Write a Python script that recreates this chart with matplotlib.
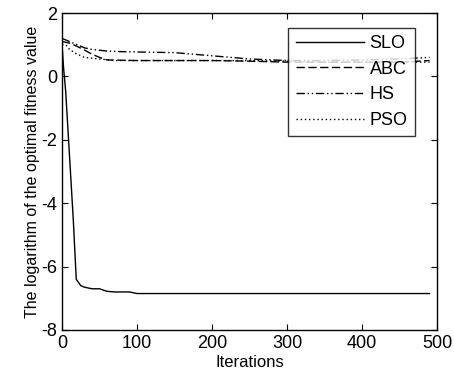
import matplotlib
matplotlib.use("Agg")
import matplotlib.pyplot as plt

plt.rcParams['font.family'] = ['Liberation Sans', 'DejaVu Sans']
plt.rcParams['axes.unicode_minus'] = False

slo_x = [0, 2, 5, 10, 15, 19, 25, 30, 40, 50, 60, 70, 80, 90, 100, 150, 200, 300, 400, 490]
slo_y = [1.0, 0.3, -0.5, -2.5, -4.5, -6.4, -6.6, -6.65, -6.7, -6.7, -6.78, -6.8, -6.8, -6.8, -6.85, -6.85, -6.85, -6.85, -6.85, -6.85]

abc_x = [0, 10, 20, 30, 40, 50, 60, 100, 150, 200, 250, 300, 350, 400, 450, 490]
abc_y = [1.1, 1.05, 0.95, 0.83, 0.7, 0.6, 0.52, 0.5, 0.5, 0.5, 0.48, 0.45, 0.45, 0.45, 0.45, 0.5]

hs_x = [0, 5, 10, 20, 30, 40, 60, 80, 100, 150, 200, 250, 300, 350, 400, 450, 490]
hs_y = [1.2, 1.15, 1.1, 1.0, 0.9, 0.85, 0.8, 0.78, 0.77, 0.75, 0.65, 0.55, 0.5, 0.5, 0.52, 0.55, 0.6]

pso_x = [0, 5, 10, 20, 30, 50, 70, 100, 150, 200, 250, 300, 350, 400, 450, 490]
pso_y = [1.0, 1.0, 0.85, 0.7, 0.6, 0.55, 0.5, 0.5, 0.5, 0.5, 0.5, 0.48, 0.45, 0.45, 0.45, 0.45]

names = ['SLO', 'ABC', 'HS', 'PSO']
styles = ['-', (0, (6, 2.5)), (0, (6, 2, 1, 2, 1, 2)), (0, (1, 2))]

fig = plt.figure(figsize=(4.54, 3.78), dpi=100)
ax = fig.add_axes([62/454, 1 - 330/378, (437-62)/454, (330-13)/378])

for xs, ys, nm, ls in zip([slo_x, abc_x, hs_x, pso_x], [slo_y, abc_y, hs_y, pso_y], names, styles):
    ax.plot(xs, ys, color='black', linestyle=ls, linewidth=1.0, label=nm)

ax.set_xlim(0, 500)
ax.set_ylim(-8, 2)
ax.set_xticks([0, 100, 200, 300, 400, 500])
ax.set_yticks([-8, -6, -4, -2, 0, 2])
ax.tick_params(direction='in', top=True, right=True, labelsize=13, length=4)
for s in ax.spines.values():
    s.set_linewidth(1.0)
ax.set_xlabel('Iterations', fontsize=12, labelpad=2)
ax.set_ylabel('The logarithm of the optimal fitness value', fontsize=11.5, labelpad=1)

leg = ax.legend(loc='upper right', fontsize=13, frameon=True, fancybox=False,
                edgecolor='black', handlelength=3.8, handletextpad=0.3,
                borderpad=0.4, labelspacing=0.48, borderaxespad=0,
                bbox_to_anchor=(0.941, 0.953))
leg.get_frame().set_linewidth(1.0)

fig.savefig('out.png', dpi=100)
